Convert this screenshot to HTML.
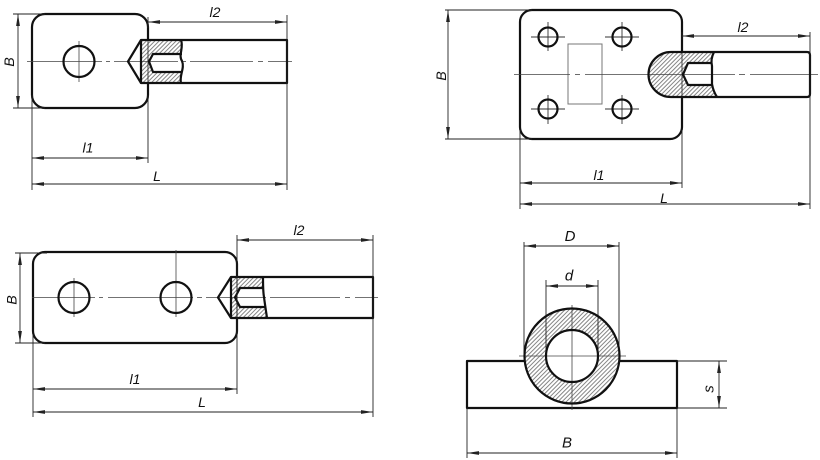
<!DOCTYPE html>
<html><head><meta charset="utf-8"><style>
html,body{margin:0;padding:0;background:#fff;}
svg{display:block}
text{font-family:"Liberation Sans",sans-serif;font-style:italic;font-size:14px;fill:#111}
.o{stroke:#111;stroke-width:2.2;fill:none;stroke-linejoin:round}
.d{stroke:#222;stroke-width:0.9;fill:none}
.c{stroke:#444;stroke-width:0.8;fill:none}
.t{stroke:#333;stroke-width:0.9;fill:none}
</style></head><body>
<svg width="820" height="460" viewBox="0 0 820 460" xmlns="http://www.w3.org/2000/svg">
<defs>
<pattern id="h" patternUnits="userSpaceOnUse" width="3" height="3" patternTransform="rotate(45)">
<line x1="0.5" y1="0" x2="0.5" y2="3" stroke="#666" stroke-width="0.8"/>
</pattern>
<marker id="a" viewBox="0 -2.2 12 4.4" refX="12" refY="0" markerWidth="12" markerHeight="4.4" markerUnits="userSpaceOnUse" orient="auto-start-reverse">
<path d="M0,-1.9 L12,0 L0,1.9 z" fill="#222"/>
</marker>
</defs>

<!-- ============ Drawing 1 ============ -->
<rect x="32" y="14" width="116" height="94" rx="13" class="o" fill="#fff"/>
<rect x="141" y="40" width="146" height="43" fill="#fff"/>
<path d="M141,40 L181,40 C184,48 178,55 182,61 C185,68 179,76 181,83 L141,83 Z" fill="url(#h)"/>
<path d="M149,61.5 L153,54 L182,54 L182,72 L153,72 Z" fill="#fff"/>
<line x1="148" y1="40" x2="148" y2="83" class="t"/>
<g class="c">
<line x1="27" y1="61.5" x2="102" y2="61.5"/>
<line x1="106" y1="61.5" x2="110" y2="61.5"/>
<line x1="114" y1="61.5" x2="178" y2="61.5"/>
<line x1="182" y1="61.5" x2="186" y2="61.5"/>
<line x1="190" y1="61.5" x2="253" y2="61.5"/>
<line x1="258" y1="61.5" x2="263" y2="61.5"/>
<line x1="268" y1="61.5" x2="292" y2="61.5"/>
<line x1="79" y1="41" x2="79" y2="82"/>
</g>
<circle cx="79" cy="61.5" r="15.5" class="o"/>
<path class="o" d="M141,40 L287,40 L287,83 L141,83 Z"/>
<path class="o" d="M141,40 L128,61.5 L141,83"/>
<path class="o" d="M181,40 C184,48 178,55 182,61 C185,68 179,76 181,83"/>
<path class="o" d="M182,54 L153,54 L149,61.5 L153,72 L182,72"/>
<g class="d">
<line x1="18" y1="14" x2="18" y2="108" marker-start="url(#a)" marker-end="url(#a)"/>
<line x1="13" y1="14" x2="45" y2="14"/>
<line x1="13" y1="108" x2="45" y2="108"/>
<line x1="148" y1="22" x2="287" y2="22" marker-start="url(#a)" marker-end="url(#a)"/>
<line x1="148" y1="17" x2="148" y2="28"/>
<line x1="287" y1="15" x2="287" y2="190"/>
<line x1="32" y1="158" x2="148" y2="158" marker-start="url(#a)" marker-end="url(#a)"/>
<line x1="32" y1="95" x2="32" y2="190"/>
<line x1="148" y1="95" x2="148" y2="163"/>
<line x1="32" y1="184" x2="287" y2="184" marker-start="url(#a)" marker-end="url(#a)"/>
</g>
<text transform="translate(14,62) rotate(-90)" text-anchor="middle">B</text>
<text x="215" y="17" text-anchor="middle">l2</text>
<text x="88" y="152.5" text-anchor="middle">l1</text>
<text x="157" y="181" text-anchor="middle">L</text>

<!-- ============ Drawing 2 ============ -->
<rect x="520" y="10" width="162" height="129" rx="12" class="o" fill="#fff"/>
<rect x="568" y="44" width="34" height="60" fill="none" stroke="#777" stroke-width="1"/>
<g class="t">
<line x1="531" y1="37" x2="565" y2="37"/><line x1="548" y1="22" x2="548" y2="51"/>
<line x1="605" y1="37" x2="639" y2="37"/><line x1="622" y1="22" x2="622" y2="51"/>
<line x1="531" y1="109" x2="565" y2="109"/><line x1="548" y1="95" x2="548" y2="124"/>
<line x1="605" y1="109" x2="639" y2="109"/><line x1="622" y1="95" x2="622" y2="124"/>
</g>
<circle cx="548" cy="37" r="9.5" class="o"/>
<circle cx="622" cy="37" r="9.5" class="o"/>
<circle cx="548" cy="109" r="9.5" class="o"/>
<circle cx="622" cy="109" r="9.5" class="o"/>
<path d="M671,52 L807,52 Q810,52 810,55 L810,94 Q810,97 807,97 L671,97 A22.5,22.5 0 0 1 671,52 Z" fill="#fff"/>
<path d="M671,52 L714,52 C711,58 711,62 712,66 L712,84 C713,90 715,94 717,97 L671,97 A22.5,22.5 0 0 1 671,52 Z" fill="url(#h)"/>
<path d="M683,74.5 L688,63 L712,63 L712,85 L688,85 Z" fill="#fff"/>
<line x1="682" y1="52" x2="682" y2="97" class="t"/>
<g class="c">
<line x1="514" y1="74.5" x2="570" y2="74.5"/>
<line x1="575" y1="74.5" x2="580" y2="74.5"/>
<line x1="585" y1="74.5" x2="735" y2="74.5"/>
<line x1="739" y1="74.5" x2="745" y2="74.5"/>
<line x1="750" y1="74.5" x2="818" y2="74.5"/>
</g>
<path class="o" d="M671,52 L807,52 Q810,52 810,55 L810,94 Q810,97 807,97 L671,97 A22.5,22.5 0 0 1 671,52 Z"/>
<path class="o" d="M714,52 C711,58 711,62 712,66 L712,84 C713,90 715,94 717,97"/>
<path class="o" d="M712,63 L688,63 L683,74.5 L688,85 L712,85"/>
<g class="d">
<line x1="448" y1="10" x2="448" y2="139" marker-start="url(#a)" marker-end="url(#a)"/>
<line x1="445" y1="10" x2="532" y2="10"/>
<line x1="445" y1="139" x2="532" y2="139"/>
<line x1="682" y1="36" x2="810" y2="36" marker-start="url(#a)" marker-end="url(#a)"/>
<line x1="682" y1="32" x2="682" y2="40"/>
<line x1="810" y1="32" x2="810" y2="209"/>
<line x1="520" y1="130" x2="520" y2="209"/>
<line x1="682" y1="130" x2="682" y2="188"/>
<line x1="520" y1="183" x2="682" y2="183" marker-start="url(#a)" marker-end="url(#a)"/>
<line x1="520" y1="204" x2="810" y2="204" marker-start="url(#a)" marker-end="url(#a)"/>
</g>
<text transform="translate(446,76) rotate(-90)" text-anchor="middle">B</text>
<text x="743" y="32" text-anchor="middle">l2</text>
<text x="599" y="180" text-anchor="middle">l1</text>
<text x="664" y="203" text-anchor="middle">L</text>

<!-- ============ Drawing 3 ============ -->
<rect x="33" y="252" width="204" height="91" rx="12" class="o" fill="#fff"/>
<rect x="231" y="277" width="142" height="41" fill="#fff"/>
<path d="M231,277 L263,277 C263,287 263,292 264,297 C265,305 266,311 267,318 L231,318 Z" fill="url(#h)"/>
<path d="M235,297.5 L240,288 L264,288 L265.5,307 L240,307 Z" fill="#fff"/>
<line x1="237" y1="277" x2="237" y2="318" class="t"/>
<g class="c">
<line x1="32" y1="297.5" x2="95" y2="297.5"/>
<line x1="99" y1="297.5" x2="103" y2="297.5"/>
<line x1="108" y1="297.5" x2="193" y2="297.5"/>
<line x1="197" y1="297.5" x2="202" y2="297.5"/>
<line x1="206" y1="297.5" x2="266" y2="297.5"/>
<line x1="270" y1="297.5" x2="340" y2="297.5"/>
<line x1="345" y1="297.5" x2="350" y2="297.5"/>
<line x1="355" y1="297.5" x2="378" y2="297.5"/>
<line x1="74" y1="278" x2="74" y2="317"/>
<line x1="176" y1="250" x2="176" y2="317"/>
</g>
<circle cx="74" cy="297.5" r="15.5" class="o"/>
<circle cx="176" cy="297.5" r="15.5" class="o"/>
<path class="o" d="M231,277 L373,277 L373,318 L231,318 Z"/>
<path class="o" d="M231,277 L218,297.5 L231,318"/>
<path class="o" d="M263,277 C263,287 263,292 264,297 C265,305 266,311 267,318"/>
<path class="o" d="M264,288 L240,288 L235,297.5 L240,307 L265.5,307"/>
<g class="d">
<line x1="20" y1="253" x2="20" y2="343" marker-start="url(#a)" marker-end="url(#a)"/>
<line x1="15" y1="253" x2="47" y2="253"/>
<line x1="15" y1="343" x2="45" y2="343"/>
<line x1="237" y1="240" x2="373" y2="240" marker-start="url(#a)" marker-end="url(#a)"/>
<line x1="237" y1="235" x2="237" y2="394"/>
<line x1="373" y1="235" x2="373" y2="417"/>
<line x1="33" y1="335" x2="33" y2="417"/>
<line x1="33" y1="389" x2="237" y2="389" marker-start="url(#a)" marker-end="url(#a)"/>
<line x1="33" y1="412" x2="373" y2="412" marker-start="url(#a)" marker-end="url(#a)"/>
</g>
<text transform="translate(16.5,300) rotate(-90)" text-anchor="middle">B</text>
<text x="299" y="235" text-anchor="middle">l2</text>
<text x="135" y="384" text-anchor="middle">l1</text>
<text x="202" y="407" text-anchor="middle">L</text>

<!-- ============ Drawing 4 ============ -->
<rect x="467" y="361" width="210" height="47" class="o" fill="#fff"/>
<circle cx="572" cy="356" r="47.5" fill="#fff"/>
<circle cx="572" cy="356" r="47.5" fill="url(#h)"/>
<circle cx="572" cy="356" r="26" fill="#fff"/>
<g class="d">
<line x1="524" y1="242" x2="524" y2="356"/>
<line x1="619" y1="242" x2="619" y2="356"/>
<line x1="546" y1="280" x2="546" y2="356"/>
<line x1="598" y1="280" x2="598" y2="356"/>
</g>
<g class="c">
<line x1="572" y1="305" x2="572" y2="410"/>
<line x1="519" y1="356" x2="626" y2="356"/>
</g>
<circle cx="572" cy="356" r="47.5" class="o"/>
<circle cx="572" cy="356" r="26" class="o"/>
<g class="d">
<line x1="524" y1="246" x2="619" y2="246" marker-start="url(#a)" marker-end="url(#a)"/>
<line x1="546" y1="286" x2="598" y2="286" marker-start="url(#a)" marker-end="url(#a)"/>
<line x1="719" y1="361" x2="719" y2="408" marker-start="url(#a)" marker-end="url(#a)"/>
<line x1="677" y1="361" x2="727" y2="361"/>
<line x1="677" y1="408" x2="727" y2="408"/>
<line x1="467" y1="408" x2="467" y2="458"/>
<line x1="677" y1="408" x2="677" y2="458"/>
<line x1="467" y1="453" x2="677" y2="453" marker-start="url(#a)" marker-end="url(#a)"/>
</g>
<text x="570" y="241" text-anchor="middle" style="font-size:15px">D</text>
<text x="569" y="280.5" text-anchor="middle" style="font-size:15px">d</text>
<text transform="translate(713.5,389) rotate(-90)" text-anchor="middle" style="font-size:15px">s</text>
<text x="567" y="447.5" text-anchor="middle" style="font-size:15px">B</text>
</svg>
</body></html>
